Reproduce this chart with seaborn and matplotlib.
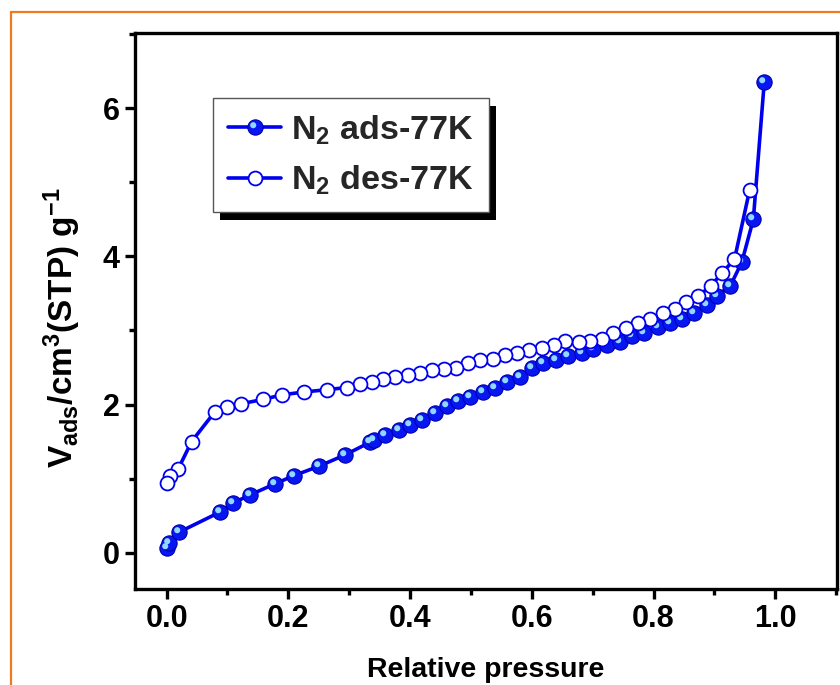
import matplotlib
matplotlib.use("Agg")
import matplotlib.pyplot as plt
import seaborn as sns
from matplotlib.path import Path
from matplotlib.patches import Rectangle
from matplotlib.ticker import MultipleLocator
from matplotlib.transforms import IdentityTransform
from matplotlib.legend_handler import HandlerTuple

# N2 isotherm at 77 K: relative pressure vs adsorbed volume
ads_p = [0.001, 0.004, 0.021, 0.088, 0.109, 0.137, 0.178, 0.209, 0.251, 0.293,
         0.334, 0.341, 0.359, 0.381, 0.400, 0.419, 0.441, 0.460, 0.479, 0.499,
         0.520, 0.540, 0.559, 0.580, 0.600, 0.619, 0.640, 0.660, 0.682, 0.701,
         0.723, 0.745, 0.764, 0.784, 0.808, 0.827, 0.847, 0.866, 0.888, 0.904,
         0.926, 0.945, 0.964, 0.982]
ads_v = [0.06, 0.13, 0.28, 0.55, 0.67, 0.78, 0.93, 1.04, 1.17, 1.32,
         1.49, 1.52, 1.59, 1.66, 1.72, 1.79, 1.88, 1.98, 2.05, 2.10,
         2.17, 2.23, 2.30, 2.37, 2.50, 2.56, 2.60, 2.65, 2.70, 2.75,
         2.80, 2.85, 2.92, 2.96, 3.05, 3.10, 3.16, 3.24, 3.34, 3.47,
         3.60, 3.92, 4.50, 6.36]

des_p = [0.958, 0.933, 0.913, 0.894, 0.873, 0.854, 0.836, 0.815, 0.795, 0.775,
         0.755, 0.734, 0.715, 0.696, 0.677, 0.655, 0.636, 0.616, 0.596, 0.576,
         0.556, 0.536, 0.515, 0.495, 0.476, 0.456, 0.436, 0.416, 0.396, 0.375,
         0.356, 0.337, 0.318, 0.296, 0.263, 0.226, 0.189, 0.159, 0.122, 0.099,
         0.079, 0.041, 0.019, 0.005, 0.000]
des_v = [4.90, 3.96, 3.78, 3.60, 3.46, 3.38, 3.29, 3.23, 3.16, 3.10,
         3.03, 2.96, 2.89, 2.86, 2.84, 2.86, 2.80, 2.76, 2.74, 2.70,
         2.67, 2.62, 2.60, 2.56, 2.50, 2.48, 2.46, 2.43, 2.40, 2.37,
         2.34, 2.31, 2.28, 2.23, 2.20, 2.17, 2.13, 2.07, 2.01, 1.97,
         1.90, 1.50, 1.13, 1.03, 0.94]

x_ticks = [0.0, 0.2, 0.4, 0.6, 0.8, 1.0]
y_ticks = [0, 2, 4, 6]

sns.set_theme(style="ticks")
plt.rcParams["font.family"] = ["Liberation Sans", "DejaVu Sans"]
plt.rcParams["font.weight"] = "bold"
plt.rcParams["mathtext.default"] = "regular"

BLUE = "#0000f0"

fig = plt.figure(figsize=(8.4, 6.85), dpi=100)
ax = fig.add_axes([0.1607, 0.1401, 0.8354, 0.8112])

# glossy spot on the upper-left of each filled sphere; the two corner
# move-to points fix the marker scale so the spot stays off-centre
spot = Path.make_compound_path(
    Path([[1, 1]], [Path.MOVETO]),
    Path([[-1, -1]], [Path.MOVETO]),
    Path.circle(center=(-0.3, 0.3), radius=0.4),
)

ms = 11
sns.lineplot(x=ads_p, y=ads_v, sort=False, estimator=None, ax=ax,
             color=BLUE, lw=2.6, marker="o", markersize=ms,
             markerfacecolor="#0816f2", markeredgecolor="#0000b0",
             markeredgewidth=0.8, zorder=3)
ads_line = ax.get_lines()[-1]
ads_spot, = ax.plot(ads_p, ads_v, ls="none", marker=spot, markersize=ms,
                    markerfacecolor="#90d8ff", markeredgecolor="none", zorder=3.1)

sns.lineplot(x=des_p, y=des_v, sort=False, estimator=None, ax=ax,
             color=BLUE, lw=2.6, marker="o", markersize=10,
             markerfacecolor="white", markeredgecolor=BLUE,
             markeredgewidth=1.3, zorder=4)
des_line = ax.get_lines()[-1]
if ax.get_legend() is not None:
    ax.get_legend().remove()

ax.set_xlim(-0.052, 1.101)
ax.set_ylim(-0.49, 7.01)
ax.set_xticks(x_ticks)
ax.set_xticklabels([f"{t:.1f}" for t in x_ticks])
ax.set_yticks(y_ticks)
ax.set_yticklabels([str(t) for t in y_ticks])
ax.xaxis.set_minor_locator(MultipleLocator(0.1))
ax.yaxis.set_minor_locator(MultipleLocator(1))
ax.tick_params(which="major", direction="out", length=7, width=2.4,
               labelsize=22, pad=4, color="black", labelcolor="black")
ax.tick_params(which="minor", direction="out", length=4, width=2.4, color="black")
for lab in ax.get_xticklabels() + ax.get_yticklabels():
    lab.set_fontweight("bold")
for sp in ax.spines.values():
    sp.set_linewidth(2.4)
    sp.set_color("black")
    sp.set_visible(True)

ax.set_xlabel("Relative pressure", fontsize=20.5, fontweight="bold",
              color="black", labelpad=16)
ax.set_ylabel("V$_{ads}$/cm$^{3}$(STP) g$^{-1}$", fontsize=24,
              fontweight="bold", color="black")
ax.yaxis.set_label_coords(-0.074, 0.47)

leg = ax.legend([(ads_line, ads_spot), des_line],
                ["N$_2$ ads-77K", "N$_2$ des-77K"],
                handler_map={tuple: HandlerTuple(ndivide=1, pad=0)},
                loc="upper left", bbox_to_anchor=(213 / 840, 1 - 98 / 685),
                bbox_transform=fig.transFigure, borderaxespad=0,
                prop={"size": 24.5, "weight": "bold"}, frameon=True,
                fancybox=False, framealpha=1, edgecolor="#555555",
                handlelength=1.55, handletextpad=0.3, borderpad=0.45,
                labelspacing=0.5)
leg.get_frame().set_linewidth(1.0)
leg.set_zorder(6)

# solid black drop shadow behind the legend box
fig.canvas.draw()
bb = leg.get_frame().get_window_extent()
shadow = Rectangle((bb.x0 + 7, bb.y0 - 8), bb.width, bb.height,
                   transform=IdentityTransform(), facecolor="black",
                   edgecolor="none", zorder=5.9, clip_on=False)
ax.add_artist(shadow)

# orange outer border around the figure panel
fig.add_artist(Rectangle((11 / 840, -0.05), 1.2, 1 - 12 / 685 + 0.05,
                         transform=fig.transFigure, fill=False,
                         edgecolor="#ef7a22", linewidth=1.6, clip_on=False))

fig.savefig("out.png", dpi=100)
